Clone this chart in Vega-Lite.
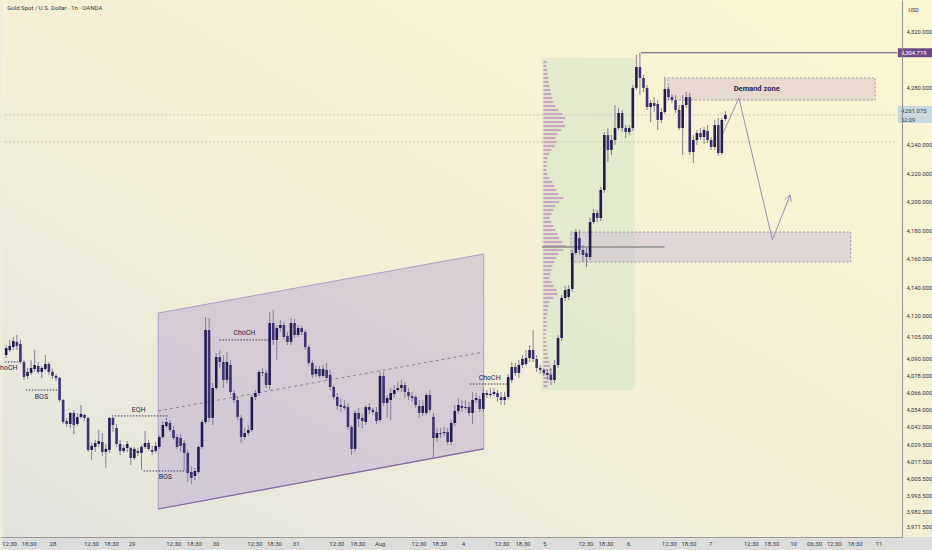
{
  "$schema": "https://vega.github.io/schema/vega-lite/v6.json",
  "width": 902,
  "height": 537,
  "autosize": "none",
  "padding": {"left": 0, "top": 0, "right": 30, "bottom": 13},
  "background": "#efecdc",
  "config": {
    "view": {"stroke": null},
    "font": "Roboto",
    "axis": {"labelOverlap": false, "labelFlush": false, "labelBound": false, "ticks": false, "grid": false}
  },
  "resolve": {"axis": {"x": "independent", "y": "independent"}},
  "datasets": {
    "candles": [
      {"i":0,"o":4092.3,"h":4099.3,"l":4090.2,"c":4097.2},{"i":1,"o":4095.8,"h":4102.9,"l":4094.4,"c":4098.6},
      {"i":2,"o":4097.9,"h":4105.0,"l":4095.8,"c":4102.2},{"i":3,"o":4101.5,"h":4106.4,"l":4095.8,"c":4098.6},
      {"i":4,"o":4100.1,"h":4102.9,"l":4086.0,"c":4087.4},{"i":5,"o":4087.4,"h":4088.8,"l":4074.8,"c":4076.9},
      {"i":6,"o":4077.6,"h":4083.2,"l":4075.5,"c":4080.4},{"i":7,"o":4079.7,"h":4088.8,"l":4078.3,"c":4083.2},
      {"i":8,"o":4082.5,"h":4095.8,"l":4080.4,"c":4085.3},{"i":9,"o":4084.6,"h":4087.4,"l":4079.0,"c":4080.4},
      {"i":10,"o":4080.4,"h":4084.6,"l":4076.2,"c":4083.2},{"i":11,"o":4082.5,"h":4092.3,"l":4081.1,"c":4086.0},
      {"i":12,"o":4086.0,"h":4087.4,"l":4078.3,"c":4080.4},{"i":13,"o":4080.4,"h":4082.5,"l":4075.5,"c":4077.6},
      {"i":14,"o":4077.6,"h":4079.0,"l":4074.1,"c":4076.2},{"i":15,"o":4076.2,"h":4076.9,"l":4059.3,"c":4060.7},
      {"i":16,"o":4060.7,"h":4061.4,"l":4043.8,"c":4045.2},{"i":17,"o":4045.9,"h":4048.1,"l":4041.7,"c":4043.8},
      {"i":18,"o":4043.8,"h":4052.3,"l":4041.0,"c":4051.6},{"i":19,"o":4051.6,"h":4053.7,"l":4036.8,"c":4043.1},
      {"i":20,"o":4043.8,"h":4051.6,"l":4042.4,"c":4048.8},{"i":21,"o":4048.8,"h":4057.2,"l":4047.4,"c":4050.9},
      {"i":22,"o":4050.2,"h":4050.9,"l":4045.9,"c":4048.1},{"i":23,"o":4048.1,"h":4048.8,"l":4024.2,"c":4025.6},
      {"i":24,"o":4025.6,"h":4030.5,"l":4018.5,"c":4028.4},{"i":25,"o":4027.7,"h":4032.6,"l":4024.2,"c":4030.5},
      {"i":26,"o":4029.8,"h":4039.6,"l":4027.7,"c":4031.9},{"i":27,"o":4031.2,"h":4037.5,"l":4021.3,"c":4024.2},
      {"i":28,"o":4024.2,"h":4029.8,"l":4012.9,"c":4026.3},{"i":29,"o":4025.6,"h":4048.8,"l":4023.5,"c":4048.1},
      {"i":30,"o":4048.1,"h":4048.8,"l":4038.2,"c":4043.1},{"i":31,"o":4041.0,"h":4043.8,"l":4027.7,"c":4029.8},
      {"i":32,"o":4029.8,"h":4032.6,"l":4022.0,"c":4024.9},{"i":33,"o":4024.9,"h":4029.1,"l":4023.5,"c":4027.0},
      {"i":34,"o":4027.0,"h":4031.9,"l":4024.2,"c":4029.8},{"i":35,"o":4027.0,"h":4027.7,"l":4015.0,"c":4019.9},
      {"i":36,"o":4019.9,"h":4027.7,"l":4018.5,"c":4026.3},{"i":37,"o":4024.9,"h":4027.0,"l":4021.3,"c":4023.5},
      {"i":38,"o":4023.5,"h":4029.1,"l":4011.5,"c":4027.7},{"i":39,"o":4027.7,"h":4038.9,"l":4026.3,"c":4030.5},
      {"i":40,"o":4030.5,"h":4032.6,"l":4024.9,"c":4026.3},{"i":41,"o":4025.6,"h":4028.4,"l":4022.0,"c":4024.2},
      {"i":42,"o":4024.9,"h":4031.2,"l":4023.5,"c":4028.4},{"i":43,"o":4027.7,"h":4036.1,"l":4026.3,"c":4034.7},
      {"i":44,"o":4034.7,"h":4045.9,"l":4033.3,"c":4043.1},{"i":45,"o":4042.4,"h":4048.1,"l":4041.0,"c":4045.2},
      {"i":46,"o":4044.5,"h":4046.6,"l":4038.2,"c":4039.6},{"i":47,"o":4039.6,"h":4042.4,"l":4032.6,"c":4034.0},
      {"i":48,"o":4034.7,"h":4036.8,"l":4026.3,"c":4027.7},{"i":49,"o":4034.0,"h":4036.8,"l":4024.2,"c":4028.4},
      {"i":50,"o":4030.5,"h":4032.6,"l":4011.5,"c":4023.5},{"i":51,"o":4023.5,"h":4025.6,"l":4003.1,"c":4009.4},
      {"i":52,"o":4010.1,"h":4014.3,"l":4001.7,"c":4005.9},{"i":53,"o":4007.3,"h":4012.9,"l":4004.5,"c":4010.8},
      {"i":54,"o":4010.1,"h":4029.1,"l":4008.7,"c":4027.7},{"i":55,"o":4027.7,"h":4046.6,"l":4026.3,"c":4045.2},
      {"i":56,"o":4045.2,"h":4119.0,"l":4043.8,"c":4109.9},{"i":57,"o":4109.9,"h":4118.3,"l":4045.2,"c":4048.1},
      {"i":58,"o":4048.1,"h":4072.6,"l":4043.1,"c":4069.1},{"i":59,"o":4069.1,"h":4093.7,"l":4067.7,"c":4090.9},
      {"i":60,"o":4090.9,"h":4095.8,"l":4083.2,"c":4087.4},{"i":61,"o":4087.4,"h":4092.3,"l":4069.1,"c":4074.8},
      {"i":62,"o":4074.8,"h":4094.4,"l":4072.6,"c":4087.4},{"i":63,"o":4085.3,"h":4088.8,"l":4064.2,"c":4066.3},
      {"i":64,"o":4065.6,"h":4067.7,"l":4058.6,"c":4060.7},{"i":65,"o":4060.7,"h":4062.8,"l":4046.6,"c":4048.8},
      {"i":66,"o":4048.1,"h":4050.2,"l":4030.5,"c":4034.7},{"i":67,"o":4034.7,"h":4041.0,"l":4032.6,"c":4037.5},
      {"i":68,"o":4037.5,"h":4043.1,"l":4035.4,"c":4039.6},{"i":69,"o":4039.6,"h":4064.2,"l":4038.2,"c":4062.8},
      {"i":70,"o":4062.8,"h":4067.7,"l":4060.7,"c":4065.6},{"i":71,"o":4065.6,"h":4081.8,"l":4063.5,"c":4080.4},
      {"i":72,"o":4080.4,"h":4083.2,"l":4077.6,"c":4079.7},{"i":73,"o":4079.7,"h":4081.8,"l":4069.1,"c":4071.2},
      {"i":74,"o":4071.2,"h":4122.5,"l":4067.7,"c":4114.8},{"i":75,"o":4114.8,"h":4124.0,"l":4099.3,"c":4102.9},
      {"i":76,"o":4102.9,"h":4113.4,"l":4088.8,"c":4111.3},{"i":77,"o":4111.3,"h":4116.9,"l":4108.4,"c":4113.4},
      {"i":78,"o":4113.4,"h":4115.5,"l":4102.9,"c":4105.0},{"i":79,"o":4105.7,"h":4108.4,"l":4099.3,"c":4101.5},
      {"i":80,"o":4101.5,"h":4118.3,"l":4099.3,"c":4114.8},{"i":81,"o":4114.8,"h":4117.6,"l":4104.3,"c":4106.4},
      {"i":82,"o":4106.4,"h":4113.4,"l":4105.0,"c":4111.3},{"i":83,"o":4111.3,"h":4112.7,"l":4106.4,"c":4108.4},
      {"i":84,"o":4108.4,"h":4109.9,"l":4095.8,"c":4097.9},{"i":85,"o":4097.9,"h":4099.3,"l":4084.6,"c":4086.7},
      {"i":86,"o":4086.7,"h":4088.8,"l":4076.2,"c":4078.3},{"i":87,"o":4079.0,"h":4084.6,"l":4076.9,"c":4082.5},
      {"i":88,"o":4082.5,"h":4084.6,"l":4076.2,"c":4077.6},{"i":89,"o":4077.6,"h":4085.3,"l":4076.2,"c":4082.5},
      {"i":90,"o":4081.8,"h":4086.7,"l":4074.8,"c":4076.2},{"i":91,"o":4078.3,"h":4081.8,"l":4067.7,"c":4069.8},
      {"i":92,"o":4069.8,"h":4071.2,"l":4060.7,"c":4062.8},{"i":93,"o":4062.8,"h":4065.6,"l":4053.7,"c":4056.5},
      {"i":94,"o":4057.2,"h":4062.1,"l":4052.3,"c":4055.8},{"i":95,"o":4056.5,"h":4060.7,"l":4053.7,"c":4055.1},
      {"i":96,"o":4055.8,"h":4058.6,"l":4039.6,"c":4041.7},{"i":97,"o":4041.7,"h":4043.1,"l":4022.0,"c":4026.3},
      {"i":98,"o":4026.3,"h":4053.7,"l":4024.2,"c":4051.6},{"i":99,"o":4051.6,"h":4055.1,"l":4041.7,"c":4047.4},
      {"i":100,"o":4048.1,"h":4050.9,"l":4041.0,"c":4045.9},{"i":101,"o":4045.2,"h":4057.2,"l":4043.1,"c":4055.8},
      {"i":102,"o":4055.8,"h":4058.6,"l":4050.9,"c":4053.7},{"i":103,"o":4053.7,"h":4055.1,"l":4050.2,"c":4052.3},
      {"i":104,"o":4052.3,"h":4055.8,"l":4043.8,"c":4045.9},{"i":105,"o":4046.6,"h":4080.4,"l":4045.2,"c":4077.6},
      {"i":106,"o":4077.6,"h":4080.4,"l":4056.5,"c":4058.6},{"i":107,"o":4058.6,"h":4064.2,"l":4048.1,"c":4062.1},
      {"i":108,"o":4060.7,"h":4069.1,"l":4046.6,"c":4065.6},{"i":109,"o":4064.9,"h":4071.2,"l":4062.1,"c":4067.7},
      {"i":110,"o":4067.7,"h":4073.4,"l":4066.3,"c":4069.1},{"i":111,"o":4069.1,"h":4074.8,"l":4066.3,"c":4071.2},
      {"i":112,"o":4071.2,"h":4073.4,"l":4062.1,"c":4066.3},{"i":113,"o":4066.3,"h":4069.1,"l":4060.7,"c":4063.5},
      {"i":114,"o":4063.5,"h":4066.3,"l":4059.3,"c":4062.1},{"i":115,"o":4062.8,"h":4064.2,"l":4055.1,"c":4057.2},
      {"i":116,"o":4056.5,"h":4060.7,"l":4048.1,"c":4051.6},{"i":117,"o":4051.6,"h":4060.7,"l":4049.5,"c":4056.5},
      {"i":118,"o":4051.6,"h":4065.6,"l":4050.2,"c":4064.2},{"i":119,"o":4064.2,"h":4067.7,"l":4052.3,"c":4053.7},
      {"i":120,"o":4048.8,"h":4051.6,"l":4020.6,"c":4034.0},{"i":121,"o":4034.0,"h":4041.0,"l":4031.2,"c":4037.5},
      {"i":122,"o":4037.5,"h":4041.0,"l":4034.0,"c":4036.8},{"i":123,"o":4037.5,"h":4041.7,"l":4035.4,"c":4038.2},
      {"i":124,"o":4038.2,"h":4041.0,"l":4029.1,"c":4031.2},{"i":125,"o":4031.2,"h":4046.6,"l":4029.1,"c":4044.5},
      {"i":126,"o":4044.5,"h":4057.2,"l":4042.4,"c":4053.0},{"i":127,"o":4053.0,"h":4062.1,"l":4050.9,"c":4057.2},
      {"i":128,"o":4056.5,"h":4060.7,"l":4052.3,"c":4055.1},{"i":129,"o":4055.1,"h":4060.7,"l":4053.7,"c":4055.8},
      {"i":130,"o":4055.8,"h":4059.3,"l":4049.5,"c":4051.6},{"i":131,"o":4051.6,"h":4066.3,"l":4043.8,"c":4060.7},
      {"i":132,"o":4060.7,"h":4065.6,"l":4058.6,"c":4062.1},{"i":133,"o":4061.4,"h":4063.5,"l":4052.3,"c":4054.4},
      {"i":134,"o":4054.4,"h":4069.1,"l":4052.3,"c":4065.6},{"i":135,"o":4065.6,"h":4067.7,"l":4062.1,"c":4064.2},
      {"i":136,"o":4064.2,"h":4069.1,"l":4062.8,"c":4064.9},{"i":137,"o":4064.9,"h":4069.1,"l":4063.5,"c":4066.3},
      {"i":138,"o":4065.6,"h":4067.7,"l":4059.3,"c":4062.8},{"i":139,"o":4062.8,"h":4066.3,"l":4057.2,"c":4060.7},
      {"i":140,"o":4060.7,"h":4066.3,"l":4057.2,"c":4062.8},{"i":141,"o":4062.8,"h":4079.0,"l":4060.7,"c":4076.9},
      {"i":142,"o":4074.8,"h":4087.4,"l":4072.6,"c":4083.9},{"i":143,"o":4083.9,"h":4086.7,"l":4077.6,"c":4079.7},
      {"i":144,"o":4079.7,"h":4088.8,"l":4076.2,"c":4085.3},{"i":145,"o":4085.3,"h":4092.3,"l":4083.2,"c":4089.5},
      {"i":146,"o":4086.0,"h":4095.8,"l":4084.6,"c":4090.2},{"i":147,"o":4090.2,"h":4099.3,"l":4087.4,"c":4095.8},
      {"i":148,"o":4095.8,"h":4109.9,"l":4087.4,"c":4089.5},{"i":149,"o":4089.5,"h":4092.3,"l":4080.4,"c":4083.2},
      {"i":150,"o":4083.2,"h":4085.3,"l":4079.0,"c":4081.8},{"i":151,"o":4081.8,"h":4083.2,"l":4077.6,"c":4079.7},
      {"i":152,"o":4079.7,"h":4081.8,"l":4074.8,"c":4078.3},{"i":153,"o":4078.3,"h":4083.2,"l":4071.2,"c":4074.8},
      {"i":154,"o":4074.8,"h":4088.8,"l":4072.6,"c":4085.3},{"i":155,"o":4085.3,"h":4106.4,"l":4083.2,"c":4104.3},
      {"i":156,"o":4104.3,"h":4134.5,"l":4102.2,"c":4132.4},{"i":157,"o":4132.4,"h":4140.8,"l":4130.3,"c":4138.0},
      {"i":158,"o":4133.1,"h":4141.5,"l":4131.0,"c":4138.7},{"i":159,"o":4138.7,"h":4166.1,"l":4136.6,"c":4164.0},
      {"i":160,"o":4164.0,"h":4180.9,"l":4162.6,"c":4178.7},{"i":161,"o":4174.5,"h":4180.2,"l":4162.6,"c":4166.1},
      {"i":162,"o":4166.1,"h":4169.6,"l":4157.7,"c":4162.6},{"i":163,"o":4164.0,"h":4167.5,"l":4154.2,"c":4161.2},
      {"i":164,"o":4161.2,"h":4188.6,"l":4159.1,"c":4185.8},{"i":165,"o":4185.8,"h":4194.9,"l":4184.4,"c":4192.1},
      {"i":166,"o":4192.1,"h":4194.2,"l":4185.8,"c":4188.6},{"i":167,"o":4188.6,"h":4210.4,"l":4186.5,"c":4208.3},
      {"i":168,"o":4208.3,"h":4249.0,"l":4206.2,"c":4246.9},{"i":169,"o":4246.9,"h":4251.8,"l":4228.0,"c":4236.4},
      {"i":170,"o":4236.4,"h":4246.9,"l":4232.9,"c":4243.4},{"i":171,"o":4243.4,"h":4268.0,"l":4239.9,"c":4251.8},
      {"i":172,"o":4251.8,"h":4265.9,"l":4250.4,"c":4262.4},{"i":173,"o":4262.4,"h":4264.5,"l":4249.0,"c":4251.8},
      {"i":174,"o":4251.8,"h":4253.9,"l":4244.8,"c":4249.0},{"i":175,"o":4249.0,"h":4253.9,"l":4246.9,"c":4251.8},
      {"i":176,"o":4251.8,"h":4282.1,"l":4249.7,"c":4280.0},{"i":177,"o":4280.0,"h":4303.1,"l":4278.5,"c":4294.7},
      {"i":178,"o":4294.7,"h":4304.7,"l":4275.0,"c":4287.0},{"i":179,"o":4287.0,"h":4289.1,"l":4277.1,"c":4280.0},
      {"i":180,"o":4280.0,"h":4282.1,"l":4264.5,"c":4266.6},{"i":181,"o":4266.6,"h":4271.5,"l":4256.0,"c":4269.4},
      {"i":182,"o":4269.4,"h":4273.6,"l":4263.1,"c":4267.3},{"i":183,"o":4268.7,"h":4271.5,"l":4250.4,"c":4257.5},
      {"i":184,"o":4257.5,"h":4265.9,"l":4255.3,"c":4263.1},{"i":185,"o":4263.1,"h":4287.7,"l":4261.7,"c":4279.2},
      {"i":186,"o":4279.2,"h":4281.3,"l":4271.5,"c":4273.6},{"i":187,"o":4273.6,"h":4275.7,"l":4269.4,"c":4271.5},
      {"i":188,"o":4271.5,"h":4275.0,"l":4262.4,"c":4264.5},{"i":189,"o":4264.5,"h":4268.0,"l":4250.4,"c":4251.8},
      {"i":190,"o":4251.8,"h":4275.0,"l":4232.9,"c":4268.0},{"i":191,"o":4268.0,"h":4277.1,"l":4265.9,"c":4273.6},
      {"i":192,"o":4273.6,"h":4276.4,"l":4232.9,"c":4235.0},{"i":193,"o":4235.0,"h":4246.9,"l":4227.2,"c":4243.4},
      {"i":194,"o":4243.4,"h":4250.4,"l":4239.9,"c":4248.3},{"i":195,"o":4248.3,"h":4251.8,"l":4243.4,"c":4245.5},
      {"i":196,"o":4245.5,"h":4252.5,"l":4240.6,"c":4250.4},{"i":197,"o":4249.7,"h":4253.9,"l":4241.3,"c":4243.4},
      {"i":198,"o":4243.4,"h":4245.5,"l":4236.4,"c":4238.5},{"i":199,"o":4238.5,"h":4257.5,"l":4236.4,"c":4253.9},
      {"i":200,"o":4253.9,"h":4258.9,"l":4232.2,"c":4234.3},{"i":201,"o":4234.3,"h":4258.9,"l":4232.9,"c":4257.5},
      {"i":202,"o":4258.2,"h":4263.8,"l":4256.8,"c":4261.1}
    ],
    "profile": [
      {"b":150.9,"p":4298.2,"e":151.75},{"b":150.9,"p":4295.4,"e":151.75},{"b":150.9,"p":4292.6,"e":152.03},{"b":150.9,"p":4289.8,"e":152.03},
      {"b":150.9,"p":4287.0,"e":152.31},{"b":150.9,"p":4284.2,"e":152.31},{"b":150.9,"p":4281.4,"e":152.59},{"b":150.9,"p":4278.5,"e":152.86},
      {"b":150.9,"p":4275.7,"e":153.14},{"b":150.9,"p":4272.9,"e":153.42},{"b":150.9,"p":4270.1,"e":153.7},{"b":150.9,"p":4267.3,"e":154.25},
      {"b":150.9,"p":4264.5,"e":155.09},{"b":150.9,"p":4261.7,"e":156.2},{"b":150.9,"p":4258.9,"e":157.03},{"b":150.9,"p":4256.0,"e":156.48},
      {"b":150.9,"p":4253.2,"e":157.03},{"b":150.9,"p":4250.4,"e":155.92},{"b":150.9,"p":4247.6,"e":154.81},{"b":150.9,"p":4244.8,"e":154.25},
      {"b":150.9,"p":4242.0,"e":154.53},{"b":150.9,"p":4239.2,"e":153.98},{"b":150.9,"p":4236.4,"e":153.14},{"b":150.9,"p":4233.6,"e":152.59},
      {"b":150.9,"p":4230.7,"e":152.03},{"b":150.9,"p":4227.9,"e":151.75},{"b":150.9,"p":4225.1,"e":151.75},{"b":150.9,"p":4222.3,"e":151.75},
      {"b":150.9,"p":4219.5,"e":152.03},{"b":150.9,"p":4216.7,"e":152.59},{"b":150.9,"p":4213.9,"e":153.42},{"b":150.9,"p":4211.1,"e":153.98},
      {"b":150.9,"p":4208.3,"e":154.53},{"b":150.9,"p":4205.4,"e":155.09},{"b":150.9,"p":4202.6,"e":156.48},{"b":150.9,"p":4199.8,"e":155.36},
      {"b":150.9,"p":4197.0,"e":154.25},{"b":150.9,"p":4194.2,"e":153.7},{"b":150.9,"p":4191.4,"e":153.14},{"b":150.9,"p":4188.6,"e":152.59},
      {"b":150.9,"p":4185.8,"e":153.14},{"b":150.9,"p":4182.9,"e":153.7},{"b":150.9,"p":4180.1,"e":154.25},{"b":150.9,"p":4177.3,"e":154.81},
      {"b":150.9,"p":4174.5,"e":155.36},{"b":150.9,"p":4171.7,"e":156.2},{"b":150.9,"p":4168.9,"e":157.31},{"b":150.9,"p":4166.1,"e":156.48},
      {"b":150.9,"p":4163.3,"e":155.09},{"b":150.9,"p":4160.5,"e":154.53},{"b":150.9,"p":4157.6,"e":153.98},{"b":150.9,"p":4154.8,"e":153.42},
      {"b":150.9,"p":4152.0,"e":153.14},{"b":150.9,"p":4149.2,"e":152.86},{"b":150.9,"p":4146.4,"e":152.59},{"b":150.9,"p":4143.6,"e":153.14},
      {"b":150.9,"p":4140.8,"e":153.7},{"b":150.9,"p":4138.0,"e":154.53},{"b":150.9,"p":4135.2,"e":154.81},{"b":150.9,"p":4132.4,"e":153.7},
      {"b":150.9,"p":4129.5,"e":152.59},{"b":150.9,"p":4126.7,"e":152.31},{"b":150.9,"p":4123.9,"e":152.03},{"b":150.9,"p":4121.1,"e":152.03},
      {"b":150.9,"p":4118.3,"e":151.75},{"b":150.9,"p":4115.5,"e":151.75},{"b":150.9,"p":4112.7,"e":151.75},{"b":150.9,"p":4109.9,"e":151.75},
      {"b":150.9,"p":4107.1,"e":151.48},{"b":150.9,"p":4104.3,"e":151.48},{"b":150.9,"p":4101.4,"e":151.75},{"b":150.9,"p":4098.6,"e":151.75},
      {"b":150.9,"p":4095.8,"e":151.75},{"b":150.9,"p":4093.0,"e":152.03},{"b":150.9,"p":4090.2,"e":152.31},{"b":150.9,"p":4087.4,"e":152.59},
      {"b":150.9,"p":4084.6,"e":152.86},{"b":150.9,"p":4081.8,"e":153.14},{"b":150.9,"p":4079.0,"e":153.42},{"b":150.9,"p":4076.1,"e":152.86},
      {"b":150.9,"p":4073.3,"e":152.31},{"b":150.9,"p":4070.5,"e":152.03}
    ],
    "lines": [
      {"s":"dot","g":"a","i":-0.4,"p":4087.4},{"s":"dot","g":"a","i":3.8,"p":4087.4},
      {"s":"dot","g":"b","i":5.5,"p":4067.7},{"s":"dot","g":"b","i":14.4,"p":4067.7},
      {"s":"dot","g":"c","i":29.7,"p":4049.5},{"s":"dot","g":"c","i":45.5,"p":4049.5},
      {"s":"dot","g":"d","i":38.6,"p":4010.8},{"s":"dot","g":"d","i":50.5,"p":4010.8},
      {"s":"dot","g":"e","i":59.9,"p":4102.9},{"s":"dot","g":"e","i":74,"p":4102.9},
      {"s":"dot","g":"f","i":130.2,"p":4071.9},{"s":"dot","g":"f","i":141.3,"p":4071.9},
      {"s":"mid","g":"m","i":42.7,"p":4053.0},{"s":"mid","g":"m","i":134.1,"p":4094.4},
      {"s":"chanlo","g":"cl","i":42.7,"p":3984.1},{"s":"chanlo","g":"cl","i":134.1,"p":4026.3},
      {"s":"faint","g":"f1","i":-0.4,"p":4242.0},{"s":"faint","g":"f1","i":250.2,"p":4242.0},
      {"s":"faint","g":"f2","i":-0.4,"p":4261.075},{"s":"faint","g":"f2","i":250.2,"p":4261.075},
      {"s":"high","g":"h1","i":178.3,"p":4304.7},{"s":"high","g":"h1","i":250.2,"p":4304.7},
      {"s":"poc","g":"p1","i":150.5,"p":4168.2},{"s":"poc","g":"p1","i":184.9,"p":4168.2},
      {"s":"arrow","g":"ar","i":201.1,"p":4246.9},{"s":"arrow","g":"ar","i":205.8,"p":4272.9},
      {"s":"arrow","g":"ar","i":215.2,"p":4173.2},{"s":"arrow","g":"ar","i":220.2,"p":4204.8},
      {"s":"arrow","g":"ah","i":218.7,"p":4201.7},{"s":"arrow","g":"ah","i":220.2,"p":4204.8},
      {"s":"arrow","g":"ah","i":220.5,"p":4199.9}
    ],
    "boxes": [
      {"k":"bg","i":-1,"i2":262,"p":3964.4,"p2":4346},
      {"k":"band","i":-1,"i2":262,"p":3948,"p2":3964.4},
      {"k":"vp","i":150.5,"i2":176.6,"p":4067.7,"p2":4301.0},
      {"k":"low","i":158.6,"i2":237.2,"p":4157.7,"p2":4178.7},
      {"k":"dz","i":185.8,"i2":244.1,"p":4271.5,"p2":4287.0},
      {"k":"hi","i":250.45,"i2":262,"p":4301.5,"p2":4307.9},
      {"k":"cur","i":250.45,"i2":262,"p":4255.3,"p2":4267.3}
    ],
    "labels": [
      {"k":"lbl","t":"ChoCH","i":0.1,"p":4083.2},
      {"k":"lbl","t":"BOS","i":9.9,"p":4062.8},
      {"k":"lbl","t":"EQH","i":37.2,"p":4053.7},
      {"k":"lbl","t":"BOS","i":44.7,"p":4006.6},
      {"k":"lbl","t":"ChoCH","i":66.9,"p":4107.8},
      {"k":"lbl","t":"ChoCH","i":135.8,"p":4076.2},
      {"k":"dz","t":"Demand zone","i":210.8,"p":4279.2},
      {"k":"title","t":"Gold Spot / U.S. Dollar · 1h · OANDA","i":0.3,"p":4336.2},
      {"k":"hi","t":"4,304.719","i":251.3,"p":4304.7},
      {"k":"cur","t":"4,261.075","i":251.3,"p":4264.0},
      {"k":"cur","t":"52:09","i":251.3,"p":4257.7}
    ]
  },
  "layer": [
    {
      "data": {"name": "boxes"},
      "transform": [{"filter": "datum.k === 'bg'"}],
      "mark": {"type": "rect", "fill": {"gradient": "linear", "x1": 1, "y1": 0, "x2": 0, "y2": 1,
        "stops": [{"offset": 0, "color": "#fdf6d1"}, {"offset": 0.55, "color": "#f3efd6"}, {"offset": 1, "color": "#e2e3df"}]}},
      "encoding": {
        "x": {"field": "i", "type": "quantitative", "axis": null},
        "x2": {"field": "i2"},
        "y": {"field": "p", "type": "quantitative", "axis": null},
        "y2": {"field": "p2"}
      }
    },
    {
      "data": {"name": "boxes"},
      "transform": [{"filter": "datum.k === 'band'"}],
      "mark": {"type": "rect", "fill": "#dcdcda"},
      "encoding": {
        "x": {"field": "i", "type": "quantitative", "axis": null},
        "x2": {"field": "i2"},
        "y": {"field": "p", "type": "quantitative", "axis": null},
        "y2": {"field": "p2"}
      }
    },
    {
      "data": {"name": "boxes"},
      "transform": [{"filter": "datum.k === 'vp'"}],
      "mark": {"type": "rect", "fill": "#d3e6c6", "fillOpacity": 0.55},
      "encoding": {
        "x": {"field": "i", "type": "quantitative", "axis": null},
        "x2": {"field": "i2"},
        "y": {"field": "p", "type": "quantitative", "axis": null},
        "y2": {"field": "p2"}
      }
    },
    {
      "data": {"name": "profile"},
      "mark": {"type": "rule", "stroke": "#c49bc0", "strokeWidth": 2.2, "opacity": 0.85},
      "encoding": {
        "x": {"field": "b", "type": "quantitative", "axis": null},
        "x2": {"field": "e"},
        "y": {"field": "p", "type": "quantitative", "axis": null}
      }
    },
    {
      "data": {"values": [{"i": 42.7, "lo": 3984.1, "hi": 4121.8}, {"i": 134.1, "lo": 4026.3, "hi": 4163.3}]},
      "mark": {"type": "area", "fill": "#b9a4cf", "fillOpacity": 0.45, "stroke": "#b29bc8", "strokeWidth": 1},
      "encoding": {
        "x": {"field": "i", "type": "quantitative", "axis": null},
        "y": {"field": "lo", "type": "quantitative", "axis": null},
        "y2": {"field": "hi"}
      }
    },
    {
      "data": {"name": "boxes"},
      "transform": [{"filter": "datum.k === 'low'"}],
      "mark": {"type": "rect", "fill": "#c8b6d6", "fillOpacity": 0.45, "stroke": "#9d95a6", "strokeDash": [2, 2], "strokeWidth": 1},
      "encoding": {
        "x": {"field": "i", "type": "quantitative", "axis": null},
        "x2": {"field": "i2"},
        "y": {"field": "p", "type": "quantitative", "axis": null},
        "y2": {"field": "p2"}
      }
    },
    {
      "data": {"name": "boxes"},
      "transform": [{"filter": "datum.k === 'dz'"}],
      "mark": {"type": "rect", "fill": "#d8bfca", "fillOpacity": 0.5, "stroke": "#9d95a6", "strokeDash": [2, 2], "strokeWidth": 1},
      "encoding": {
        "x": {"field": "i", "type": "quantitative", "axis": null},
        "x2": {"field": "i2"},
        "y": {"field": "p", "type": "quantitative", "axis": null},
        "y2": {"field": "p2"}
      }
    },
    {
      "data": {"name": "lines"},
      "transform": [{"filter": "datum.s === 'faint'"}],
      "mark": {"type": "line", "stroke": "#c9c4ae", "strokeWidth": 1, "strokeDash": [2, 2]},
      "encoding": {
        "x": {"field": "i", "type": "quantitative", "axis": null},
        "y": {"field": "p", "type": "quantitative", "axis": null},
        "detail": {"field": "g"}
      }
    },
    {
      "data": {"name": "lines"},
      "transform": [{"filter": "datum.s === 'dot'"}],
      "mark": {"type": "line", "stroke": "#3b3560", "strokeWidth": 1, "strokeDash": [1.5, 1.5]},
      "encoding": {
        "x": {"field": "i", "type": "quantitative", "axis": null},
        "y": {"field": "p", "type": "quantitative", "axis": null},
        "detail": {"field": "g"}
      }
    },
    {
      "data": {"name": "lines"},
      "transform": [{"filter": "datum.s === 'mid'"}],
      "mark": {"type": "line", "stroke": "#8f7fa3", "strokeWidth": 1, "strokeDash": [3, 3]},
      "encoding": {
        "x": {"field": "i", "type": "quantitative", "axis": null},
        "y": {"field": "p", "type": "quantitative", "axis": null},
        "detail": {"field": "g"}
      }
    },
    {
      "data": {"name": "lines"},
      "transform": [{"filter": "datum.s === 'chanlo'"}],
      "mark": {"type": "line", "stroke": "#86699f", "strokeWidth": 1.2},
      "encoding": {
        "x": {"field": "i", "type": "quantitative", "axis": null},
        "y": {"field": "p", "type": "quantitative", "axis": null},
        "detail": {"field": "g"}
      }
    },
    {
      "data": {"name": "lines"},
      "transform": [{"filter": "datum.s === 'poc'"}],
      "mark": {"type": "line", "stroke": "#8e8b8e", "strokeWidth": 1.6},
      "encoding": {
        "x": {"field": "i", "type": "quantitative", "axis": null},
        "y": {"field": "p", "type": "quantitative", "axis": null},
        "detail": {"field": "g"}
      }
    },
    {
      "data": {"name": "lines"},
      "transform": [{"filter": "datum.s === 'high'"}],
      "mark": {"type": "line", "stroke": "#6d4b89", "strokeWidth": 1},
      "encoding": {
        "x": {"field": "i", "type": "quantitative", "axis": null},
        "y": {"field": "p", "type": "quantitative", "axis": null},
        "detail": {"field": "g"}
      }
    },
    {
      "data": {"name": "lines"},
      "transform": [{"filter": "datum.s === 'arrow'"}],
      "mark": {"type": "line", "stroke": "#9a8fb0", "strokeWidth": 1},
      "encoding": {
        "x": {"field": "i", "type": "quantitative", "axis": null},
        "y": {"field": "p", "type": "quantitative", "axis": null},
        "detail": {"field": "g"}
      }
    },
    {
      "data": {"name": "candles"},
      "mark": {"type": "rule", "stroke": "#837e98", "strokeWidth": 1},
      "encoding": {
        "x": {
          "field": "i", "type": "quantitative",
          "scale": {"domain": [-0.33, 250.2], "nice": false, "zero": false},
          "axis": {
            "values": [0.8,6.3,13,23.8,29.4,35.2,46.9,52.7,58.8,69.7,75.2,81.3,92.7,98.6,104.9,115.8,121.6,128.3,139.1,145,151.1,162.7,168.3,174.7,186.1,191.6,197.7,209.1,214.9,221,226.9,232.4,238.3,245],
            "labelExpr": "['12:30','18:30','28','12:30','18:30','29','12:30','18:30','30','12:30','18:30','31','12:30','18:30','Aug','12:30','18:30','4','12:30','18:30','5','12:30','18:30','6','12:30','18:30','7','12:30','18:30','10','06:30','12:30','18:30','11'][indexof([0.8,6.3,13,23.8,29.4,35.2,46.9,52.7,58.8,69.7,75.2,81.3,92.7,98.6,104.9,115.8,121.6,128.3,139.1,145,151.1,162.7,168.3,174.7,186.1,191.6,197.7,209.1,214.9,221,226.9,232.4,238.3,245], datum.value)]",
            "title": null, "grid": false, "ticks": false,
            "domainColor": "#9b9b9b", "labelFontSize": 6, "labelColor": "#3a3a48",
            "labelPadding": 3, "labelFlush": false, "labelOverlap": false, "labelBound": false, "zindex": 1
          }
        },
        "y": {
          "field": "l", "type": "quantitative",
          "scale": {"domain": [3964.4, 4341.8], "nice": false, "zero": false},
          "axis": {
            "orient": "right",
            "values": [4320,4280,4240,4220,4200,4180,4160,4140,4120,4105,4090,4078,4066,4054,4042,4029.5,4017.5,4005.5,3993.5,3982.5,3971.5],
            "format": ",.3f",
            "title": "USD", "titleAngle": 0, "titleX": 6, "titleY": 9, "titleAlign": "left", "titleBaseline": "middle",
            "titleFontSize": 5.5, "titleFontWeight": "normal", "titleColor": "#333344",
            "grid": false, "ticks": false, "domainColor": "#8f8f8f",
            "labelFontSize": 5.8, "labelColor": "#2f2f45", "labelPadding": 4,
            "labelFlush": false, "labelOverlap": false, "labelBound": false, "zindex": 1
          }
        },
        "y2": {"field": "h"}
      }
    },
    {
      "data": {"name": "candles"},
      "mark": {"type": "bar", "size": 2.6},
      "encoding": {
        "x": {"field": "i", "type": "quantitative", "axis": null},
        "y": {"field": "o", "type": "quantitative", "axis": null},
        "y2": {"field": "c"},
        "color": {"condition": {"test": "datum.c >= datum.o", "value": "#211b52"}, "value": "#3e3174"}
      }
    },
    {
      "data": {"name": "boxes"},
      "transform": [{"filter": "datum.k === 'hi' || datum.k === 'cur'"}],
      "mark": {"type": "rect"},
      "encoding": {
        "x": {"field": "i", "type": "quantitative", "axis": null},
        "x2": {"field": "i2"},
        "y": {"field": "p", "type": "quantitative", "axis": null},
        "y2": {"field": "p2"},
        "color": {"condition": {"test": "datum.k === 'hi'", "value": "#6d4b89"}, "value": "#c8dadf"}
      }
    },
    {
      "data": {"name": "labels"},
      "transform": [{"filter": "datum.k === 'lbl'"}],
      "mark": {"type": "text", "font": "Roboto", "fontSize": 7, "fill": "#2a2550", "align": "center", "baseline": "middle"},
      "encoding": {
        "x": {"field": "i", "type": "quantitative", "axis": null},
        "y": {"field": "p", "type": "quantitative", "axis": null},
        "text": {"field": "t"}
      }
    },
    {
      "data": {"name": "labels"},
      "transform": [{"filter": "datum.k === 'dz'"}],
      "mark": {"type": "text", "font": "Roboto", "fontSize": 7.5, "fontWeight": "bold", "fill": "#2a2550", "align": "center", "baseline": "middle"},
      "encoding": {
        "x": {"field": "i", "type": "quantitative", "axis": null},
        "y": {"field": "p", "type": "quantitative", "axis": null},
        "text": {"field": "t"}
      }
    },
    {
      "data": {"name": "labels"},
      "transform": [{"filter": "datum.k === 'title'"}],
      "mark": {"type": "text", "font": "Roboto", "fontSize": 6, "fill": "#33334a", "align": "left", "baseline": "middle"},
      "encoding": {
        "x": {"field": "i", "type": "quantitative", "axis": null},
        "y": {"field": "p", "type": "quantitative", "axis": null},
        "text": {"field": "t"}
      }
    },
    {
      "data": {"name": "labels"},
      "transform": [{"filter": "datum.k === 'hi' || datum.k === 'cur'"}],
      "mark": {"type": "text", "font": "Roboto", "fontSize": 5.8, "align": "left", "baseline": "middle"},
      "encoding": {
        "x": {"field": "i", "type": "quantitative", "axis": null},
        "y": {"field": "p", "type": "quantitative", "axis": null},
        "text": {"field": "t"},
        "color": {"condition": {"test": "datum.k === 'hi'", "value": "#ffffff"}, "value": "#2f3a55"}
      }
    }
  ]
}
